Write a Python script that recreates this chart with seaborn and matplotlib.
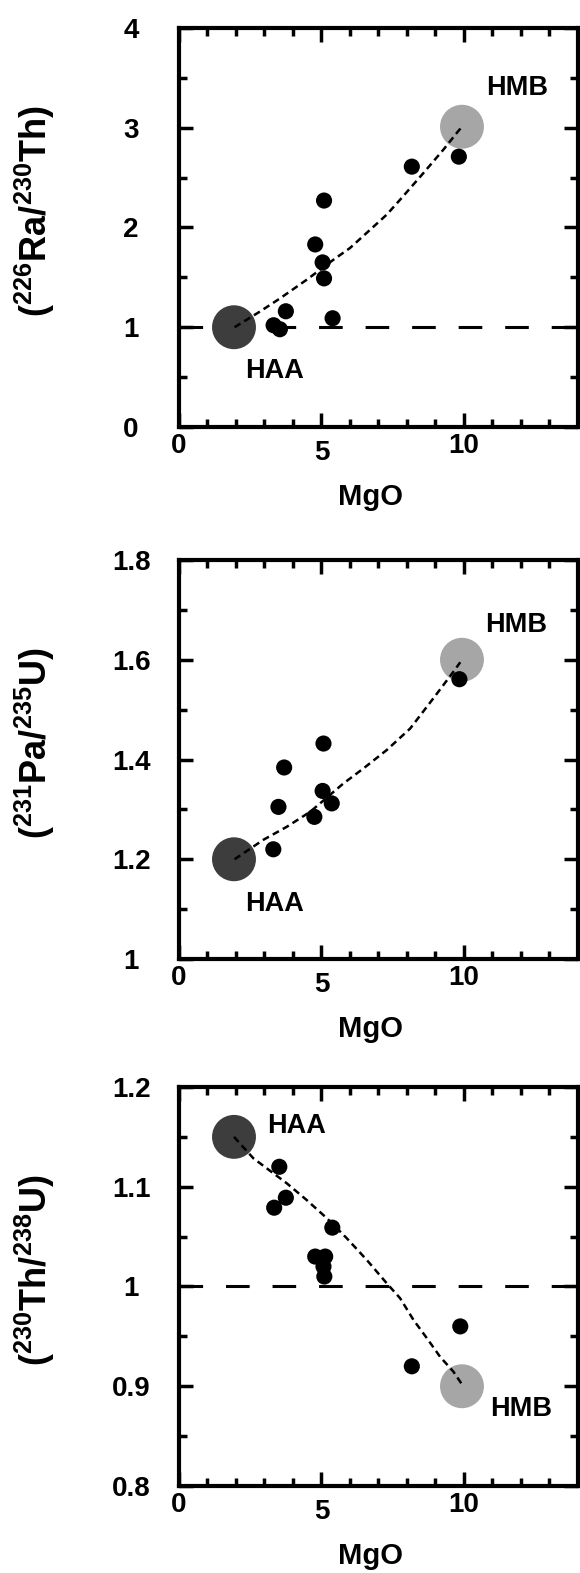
# -*- coding: utf-8 -*-
"""
3 panneaux : rapports d'activité U-series en fonction de MgO
(HAA / HMB = pôles de mélange)
"""

#%% import library
import pandas as pd
import seaborn as sns
import matplotlib.pyplot as plt
from matplotlib.ticker import MultipleLocator, FuncFormatter
from matplotlib.transforms import ScaledTranslation

#%% data
# échantillons
mgo_ra = [3.32, 3.54, 3.75, 4.78, 5.04, 5.09, 5.09, 5.39, 8.17, 9.82]
ra_th = [1.02, 0.98, 1.16, 1.83, 1.65, 1.49, 2.27, 1.09, 2.61, 2.71]

mgo_pa = [3.31, 3.49, 3.69, 4.75, 5.04, 5.07, 5.36, 9.84]
pa_u = [1.220, 1.305, 1.384, 1.285, 1.337, 1.432, 1.312, 1.561]

mgo_th = [3.34, 3.52, 3.75, 4.78, 5.07, 5.10, 5.13, 5.38, 8.17, 9.87]
th_u = [1.079, 1.120, 1.089, 1.030, 1.020, 1.010, 1.030, 1.059, 0.920, 0.960]

# pôles de mélange
haa_mgo, hmb_mgo = 1.93, 9.93
haa_ra, hmb_ra = 1.0, 3.01
haa_pa, hmb_pa = 1.2, 1.60
haa_th, hmb_th = 1.15, 0.90

# courbes de mélange (points relevés)
curve_ra_x = [1.95, 2.80, 3.55, 4.48, 5.42, 6.00, 6.71, 7.29, 7.76, 8.58, 9.28, 9.75, 9.90]
curve_ra_y = [1.00, 1.15, 1.29, 1.476, 1.677, 1.794, 1.978, 2.129, 2.279, 2.547, 2.781, 2.949, 3.00]

curve_pa_x = [1.95, 2.96, 3.78, 4.60, 5.77, 6.47, 7.29, 8.11, 8.93, 9.63, 9.87]
curve_pa_y = [1.200, 1.239, 1.265, 1.295, 1.352, 1.382, 1.419, 1.462, 1.523, 1.576, 1.595]

curve_th_x = [1.93, 2.61, 3.78, 4.48, 5.19, 5.89, 6.59, 7.29, 7.76, 8.23, 8.70, 9.16, 9.63, 9.95]
curve_th_y = [1.150, 1.1285, 1.1035, 1.0867, 1.0684, 1.0483, 1.0266, 1.0032, 0.9882,
              0.9664, 0.9481, 0.9296, 0.9146, 0.901]

ylabels = [r"$(^{226}\mathbf{Ra}/^{230}\mathbf{Th})$",
           r"$(^{231}\mathbf{Pa}/^{235}\mathbf{U})$",
           r"$(^{230}\mathbf{Th}/^{238}\mathbf{U})$"]

#%% plt and sns parameters
sns.set_theme(style="ticks")
plt.rcParams["font.family"] = ["Liberation Sans", "DejaVu Sans"]
plt.rcParams["font.weight"] = "bold"
plt.rcParams["text.color"] = "black"
plt.rcParams["axes.labelcolor"] = "black"
plt.rcParams["mathtext.fontset"] = "custom"
plt.rcParams["mathtext.rm"] = "Liberation Sans"
plt.rcParams["mathtext.it"] = "Liberation Sans:italic"
plt.rcParams["mathtext.bf"] = "Liberation Sans:bold"
plt.rcParams["lines.scale_dashes"] = False

fig = plt.figure(figsize=(5.8, 15.73), dpi=100)

panels = [
    dict(x=mgo_ra, y=ra_th, haa=haa_ra, hmb=hmb_ra, cx=curve_ra_x, cy=curve_ra_y,
         ylim=(0, 4), major=1, minor=0.5, hline=True, bottom=0.72855,
         haa_txt=(3.35, 0.56), hmb_txt=(11.85, 3.40)),
    dict(x=mgo_pa, y=pa_u, haa=haa_pa, hmb=hmb_pa, cx=curve_pa_x, cy=curve_pa_y,
         ylim=(1, 1.8), major=0.2, minor=0.1, hline=False, bottom=0.39033,
         haa_txt=(3.35, 1.11), hmb_txt=(11.82, 1.670)),
    dict(x=mgo_th, y=th_u, haa=haa_th, hmb=hmb_th, cx=curve_th_x, cy=curve_th_y,
         ylim=(0.8, 1.2), major=0.1, minor=0.05, hline=True, bottom=0.05531,
         haa_txt=(4.12, 1.161), hmb_txt=(12.0, 0.877)),
]

for p, ylab in zip(panels, ylabels):
    ax = fig.add_axes([0.3086, p["bottom"], 0.6879, 0.25366])
    ax.set_facecolor("white")

    if p["hline"]:
        ax.axhline(1, color="black", lw=2.2, ls=(0, (17, 16.5)), zorder=1)

    sns.scatterplot(x=[haa_mgo], y=[p["haa"]], s=1000, color="#3d3d3d",
                    edgecolor="none", ax=ax, zorder=2)
    sns.scatterplot(x=[hmb_mgo], y=[p["hmb"]], s=1000, color="#a6a6a6",
                    edgecolor="none", ax=ax, zorder=2)

    df_curve = pd.DataFrame({"mgo": p["cx"], "val": p["cy"]})
    sns.lineplot(data=df_curve, x="mgo", y="val", sort=False, estimator=None,
                 color="black", lw=1.8, ls=(0, (5, 3.2)), ax=ax, zorder=3)

    df_pts = pd.DataFrame({"mgo": p["x"], "val": p["y"]})
    sns.scatterplot(data=df_pts, x="mgo", y="val", s=135, color="black",
                    edgecolor="none", ax=ax, zorder=4)

    ax.text(*p["haa_txt"], "HAA", fontsize=19.5, fontweight="bold",
            color="black", ha="center", va="center")
    ax.text(*p["hmb_txt"], "HMB", fontsize=19.5, fontweight="bold",
            color="black", ha="center", va="center")

    ax.set_xlim(0, 14)
    ax.set_ylim(*p["ylim"])
    ax.xaxis.set_major_locator(MultipleLocator(5))
    ax.xaxis.set_minor_locator(MultipleLocator(1))
    ax.yaxis.set_major_locator(MultipleLocator(p["major"]))
    ax.yaxis.set_minor_locator(MultipleLocator(p["minor"]))
    ax.yaxis.set_major_formatter(FuncFormatter(lambda v, pos: f"{v:g}"))

    ax.tick_params(which="both", direction="in", top=True, right=True,
                   width=2.5, color="black", labelsize=20, labelcolor="black")
    ax.tick_params(axis="y", which="major", length=10, pad=34.5)
    ax.tick_params(axis="y", which="minor", length=6)
    ax.tick_params(axis="x", which="major", length=10, pad=4.5)
    ax.tick_params(axis="x", which="minor", length=5.5)
    plt.setp(ax.get_yticklabels(), ha="center", fontweight="bold")
    plt.setp(ax.get_xticklabels(), fontweight="bold")

    # le "5" est un peu plus bas que 0 et 10 dans l'original
    for tick in ax.xaxis.get_major_ticks():
        if abs(tick.get_loc() - 5) < 1e-9:
            tick.label1.set_transform(tick.label1.get_transform()
                                      + ScaledTranslation(0, -0.07, fig.dpi_scale_trans))

    for sp in ax.spines.values():
        sp.set_linewidth(3)
        sp.set_color("black")

    ax.set_xlabel("MgO", fontsize=21, fontweight="bold", va="baseline")
    ax.xaxis.set_label_coords(0.48, -0.195)
    ax.set_ylabel(ylab, fontsize=26, va="center")
    ax.yaxis.set_label_coords(-0.361, 0.54)

fig.savefig("out.png", dpi=100)
